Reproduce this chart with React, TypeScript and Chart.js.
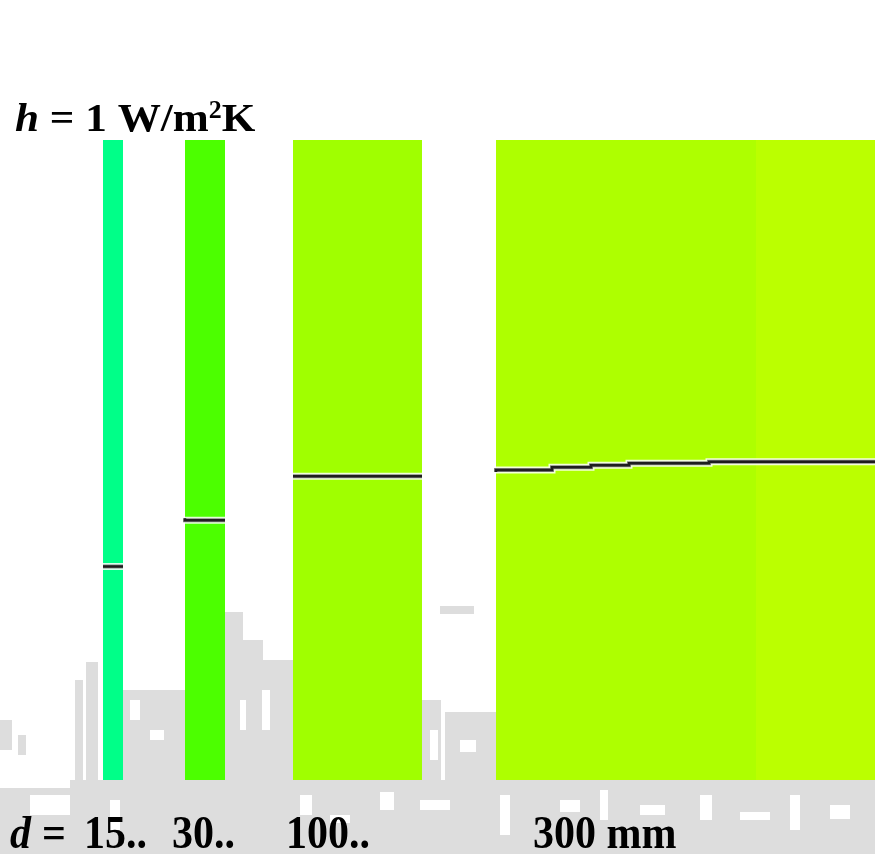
import React, { useEffect, useRef } from "react";
import { Chart, registerables } from "chart.js";

Chart.register(...registerables);

// Wall thickness labels (mm)
const thicknessLabels = ["15..", "30..", "100..", "300 mm"];
// Wall cross-section segments along the section axis (mm)
const segStart = [77.25, 138.75, 219.75, 372, 567];
const segEnd = [92.25, 168.75, 316.5, 567, 672];
const segColor = ["#00FF88", "#4CFF00", "#A0FF00", "#AEFF00", "#BBFF00"];
// Isotherm positions (height % of wall) per wall
const iso1X = [77.25, 92.25];
const iso1Y = [33.36, 33.36];
const iso2X = [138.75, 143.25, 168.75];
const iso2Y = [40.9, 40.58, 40.58];
const iso3X = [219.75, 316.5];
const iso3Y = [47.45, 47.45];
const iso4X = [372, 414, 443.25, 471.75, 531.75, 561, 656.25];
const iso4Y = [48.13, 48.44, 48.86, 49.17, 49.48, 49.73, 49.73];

const isoX = [iso1X, iso2X, iso3X, iso4X];
const isoY = [iso1Y, iso2Y, iso3Y, iso4Y];

// decorative faded building background (grey blocks), canvas px
const bgBlocks: number[][] = [
  [0, 720, 12, 30], [18, 735, 8, 20], [75, 680, 8, 174], [86, 662, 12, 192],
  [123, 690, 62, 164], [225, 612, 18, 242], [243, 640, 20, 214], [263, 660, 30, 194],
  [421, 700, 20, 154], [445, 712, 51, 142], [440, 606, 34, 8],
  [0, 780, 875, 74],
];
const bgHoles: number[][] = [
  [0, 780, 70, 8], [130, 700, 10, 20], [150, 730, 14, 10], [240, 700, 6, 30], [262, 690, 8, 40],
  [430, 730, 8, 30], [460, 740, 16, 12], [30, 795, 40, 20], [110, 800, 10, 30],
  [300, 795, 12, 20], [330, 815, 20, 8], [380, 792, 14, 18], [420, 800, 30, 10],
  [500, 795, 10, 40], [560, 800, 20, 12], [600, 790, 8, 30], [640, 805, 25, 10],
  [700, 795, 12, 25], [740, 812, 30, 8], [790, 795, 10, 35], [830, 805, 20, 14],
];

const App: React.FC = () => {
  const ref = useRef<HTMLCanvasElement | null>(null);

  useEffect(() => {
    if (!ref.current) return;
    const segDatasets = segStart.map((s, i) => ({
      type: "line" as const,
      data: [
        { x: s, y: 100 },
        { x: segEnd[i], y: 100 },
      ],
      fill: "origin",
      backgroundColor: segColor[i],
      borderWidth: 0,
      pointRadius: 0,
      order: 10,
    }));
    const isoHalo = isoX.map((xs, i) => ({
      type: "line" as const,
      data: xs.map((x, j) => ({ x, y: isoY[i][j] })),
      stepped: "after" as const,
      borderColor: "rgba(255,255,255,0.85)",
      borderWidth: 7,
      borderCapStyle: "butt" as const,
      pointRadius: 0,
      fill: false,
      order: 5,
    }));
    const isoMid = isoX.map((xs, i) => ({
      type: "line" as const,
      data: xs.map((x, j) => ({ x, y: isoY[i][j] })),
      stepped: "after" as const,
      borderColor: "#8a8a8a",
      borderWidth: 4,
      borderCapStyle: "butt" as const,
      pointRadius: 0,
      fill: false,
      order: 3,
    }));
    const isoCore = isoX.map((xs, i) => ({
      type: "line" as const,
      data: xs.map((x, j) => ({ x, y: isoY[i][j] })),
      stepped: "after" as const,
      borderColor: "#1e1e1e",
      borderWidth: 2.5,
      borderCapStyle: "butt" as const,
      pointRadius: 0,
      fill: false,
      order: 1,
    }));

    const bgPlugin = {
      id: "bg",
      beforeDraw(chart: any) {
        const ctx = chart.ctx;
        ctx.save();
        ctx.fillStyle = "#ffffff";
        ctx.fillRect(0, 0, chart.width, chart.height);
        ctx.fillStyle = "#dddddd";
        bgBlocks.forEach((b) => ctx.fillRect(b[0], b[1], b[2], b[3]));
        ctx.fillStyle = "#ffffff";
        bgHoles.forEach((b) => ctx.fillRect(b[0], b[1], b[2], b[3]));
        ctx.restore();
      },
    };

    const textPlugin = {
      id: "texts",
      afterDraw(chart: any) {
        const ctx = chart.ctx;
        ctx.save();
        ctx.fillStyle = "#000";
        ctx.textBaseline = "alphabetic";
        // top: h = 1 W/m²K
        ctx.translate(15, 131);
        ctx.scale(1.08, 1.02);
        let x = 0;
        ctx.font = 'italic bold 40px "Liberation Serif"';
        ctx.fillText("h", x, 0);
        x += ctx.measureText("h").width;
        ctx.font = 'bold 40px "Liberation Serif"';
        ctx.fillText(" = 1 W/m", x, 0);
        x += ctx.measureText(" = 1 W/m").width;
        ctx.font = 'bold 24px "Liberation Serif"';
        ctx.fillText("2", x, -13);
        x += ctx.measureText("2").width;
        ctx.font = 'bold 40px "Liberation Serif"';
        ctx.fillText("K", x, 0);
        ctx.restore();

        // bottom: d = 15.. 30.. 100.. 300 mm
        ctx.save();
        ctx.fillStyle = "#000";
        ctx.translate(0, 848);
        ctx.scale(1, 1.08);
        ctx.font = 'italic bold 42px "Liberation Serif"';
        ctx.fillText("d", 10, 0);
        ctx.font = 'bold 42px "Liberation Serif"';
        ctx.fillText("=", 42, 0);
        const labelX = [84, 172, 286, 533];
        thicknessLabels.forEach((t, i) => ctx.fillText(t, labelX[i], 0));
        ctx.restore();
      },
    };

    const chart = new Chart(ref.current, {
      type: "line",
      data: { datasets: [...segDatasets, ...isoHalo, ...isoMid, ...isoCore] as any },
      options: {
        animation: false,
        responsive: false,
        devicePixelRatio: 1,
        layout: { padding: { top: 140, bottom: 74, left: 0, right: 0 } },
        plugins: { legend: { display: false }, tooltip: { enabled: false } },
        scales: {
          x: { type: "linear", min: 0, max: 656.25, display: false },
          y: { type: "linear", min: 0, max: 100, display: false },
        },
      },
      plugins: [bgPlugin, textPlugin],
    });
    return () => chart.destroy();
  }, []);

  return (
    <div style={{ position: "absolute", left: 0, top: 0, width: 875, height: 854 }}>
      <canvas ref={ref} width={875} height={854} />
    </div>
  );
};

export default App;
